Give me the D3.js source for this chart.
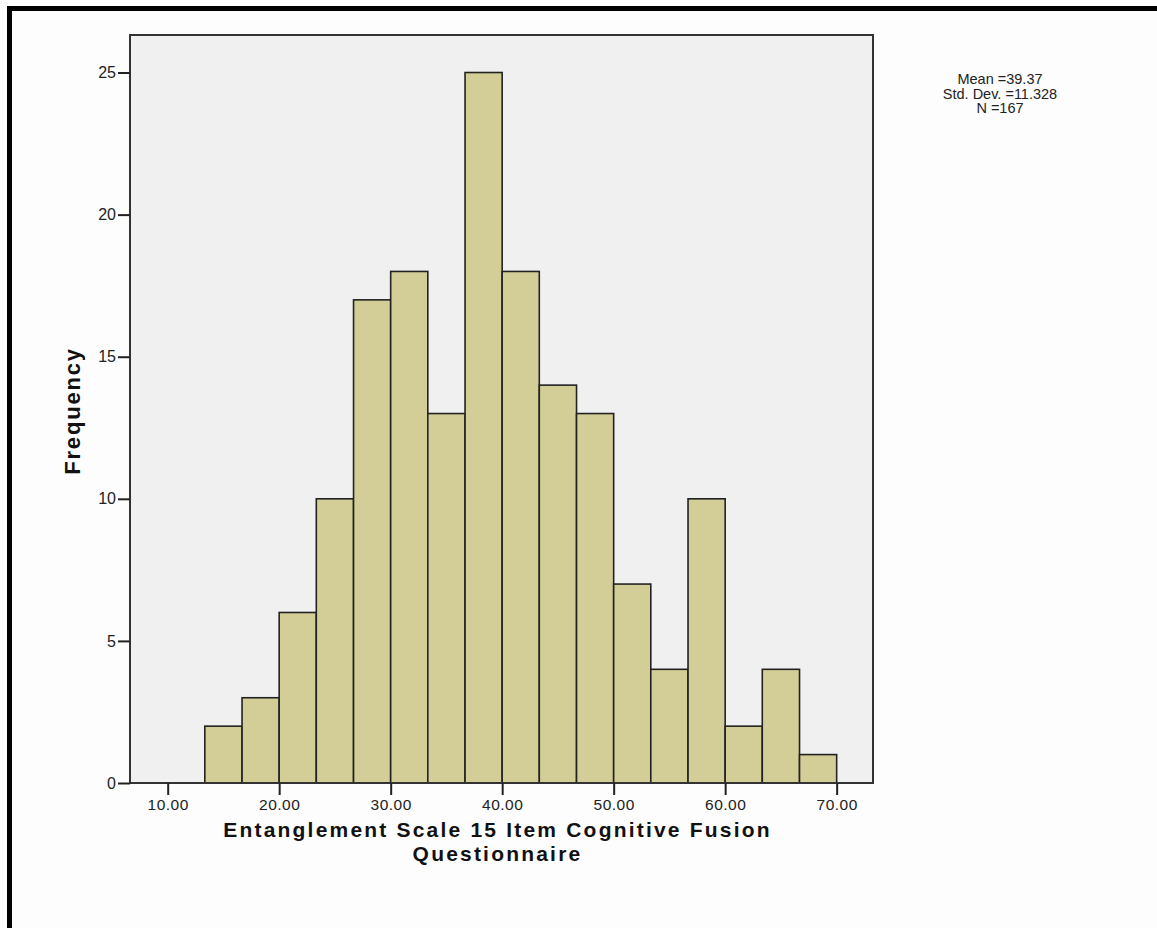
<!DOCTYPE html>
<html>
<head>
<meta charset="utf-8">
<script src="https://cdn.jsdelivr.net/npm/d3@7"></script>
<style>
  body { margin: 0; background: #fdfdfd; }
  svg { display: block; font-family: "Liberation Sans", Arial, sans-serif; }
</style>
</head>
<body>
<svg id="chart"></svg>
<script>
// histogram bins (lower edge, upper edge) and frequencies
const binStarts = [13.33, 16.67, 20.00, 23.33, 26.67, 30.00, 33.33, 36.67, 40.00, 43.33, 46.67, 50.00, 53.33, 56.67, 60.00, 63.33, 66.67];
const binEnds   = [16.67, 20.00, 23.33, 26.67, 30.00, 33.33, 36.67, 40.00, 43.33, 46.67, 50.00, 53.33, 56.67, 60.00, 63.33, 66.67, 70.00];
const counts    = [2, 3, 6, 10, 17, 18, 13, 25, 18, 14, 13, 7, 4, 10, 2, 4, 1];
const xTicks    = [10, 20, 30, 40, 50, 60, 70];
const yTicks    = [0, 5, 10, 15, 20, 25];
const statLines = ["Mean =39.37", "Std. Dev. =11.328", "N =167"];
const xTitle    = ["Entanglement Scale 15 Item Cognitive Fusion", "Questionnaire"];

const W = 1157, H = 928;
const svg = d3.select("#chart").attr("width", W).attr("height", H);

/* outer frame (only top + left visible) */
svg.append("rect").attr("x", 7).attr("y", 6).attr("width", W - 7).attr("height", 5).attr("fill", "#000");
svg.append("rect").attr("x", 7).attr("y", 6).attr("width", 5).attr("height", H - 6).attr("fill", "#000");

const plot = {left: 130, right: 873, top: 35, bottom: 783};

let x = d3.scaleLinear().domain([6.62, 73.26]).range([plot.left, plot.right]),
    y = d3.scaleLinear().domain([0, 26.32]).range([plot.bottom, plot.top]);

let g = svg.append("g");

g.append("rect") /* plot background */
  .attr("x", plot.left).attr("y", plot.top)
  .attr("width", plot.right - plot.left).attr("height", plot.bottom - plot.top)
  .attr("fill", "#f0f0f0");

g.selectAll(".bar")
  .data(counts)
  .enter()
  .append("rect")
  .attr("class", "bar")
  .attr("x", (d, i) => x(binStarts[i]))
  .attr("width", (d, i) => x(binEnds[i]) - x(binStarts[i]))
  .attr("y", (d) => y(d))
  .attr("height", (d) => y(0) - y(d))
  .attr("fill", "#d3ce97")
  .attr("stroke", "#222")
  .attr("stroke-width", 1.6);

g.append("rect") /* plot frame */
  .attr("x", plot.left).attr("y", plot.top)
  .attr("width", plot.right - plot.left).attr("height", plot.bottom - plot.top)
  .attr("fill", "none")
  .attr("stroke", "#333")
  .attr("stroke-width", 2);

let xAxis = d3.axisBottom(x).tickValues(xTicks).tickFormat(d3.format(".2f")).tickSize(12).tickSizeOuter(0).tickPadding(4),
    yAxis = d3.axisLeft(y).tickValues(yTicks).tickSize(12).tickSizeOuter(0).tickPadding(2);

let gx = g.append("g")
  .attr("transform", `translate(0, ${plot.bottom})`)
  .call(xAxis);
gx.select(".domain").remove();
gx.selectAll("line").attr("stroke", "#222").attr("stroke-width", 2);
gx.selectAll("text").attr("fill", "#222").attr("font-size", 15.5).attr("letter-spacing", "0.5px")
  .attr("font-family", "Liberation Sans, Arial, sans-serif");

let gy = g.append("g")
  .attr("transform", `translate(${plot.left}, 0)`)
  .call(yAxis);
gy.select(".domain").remove();
gy.selectAll("line").attr("stroke", "#222").attr("stroke-width", 2);
gy.selectAll("text").attr("fill", "#222").attr("font-size", 16)
  .attr("font-family", "Liberation Sans, Arial, sans-serif");

/* axis titles */
g.append("text")
  .attr("transform", `translate(80, ${(plot.top + plot.bottom) / 2 + 2}) rotate(-90)`)
  .attr("text-anchor", "middle")
  .attr("font-size", 22).attr("font-weight", "bold").attr("letter-spacing", "1.8px")
  .attr("fill", "#111")
  .text("Frequency");

g.selectAll(".xtitle")
  .data(xTitle)
  .enter()
  .append("text")
  .attr("class", "xtitle")
  .attr("x", (plot.left + plot.right) / 2 - 4)
  .attr("y", (d, i) => 837 + i * 24)
  .attr("text-anchor", "middle")
  .attr("font-size", 21).attr("font-weight", "bold").attr("letter-spacing", "2.2px")
  .attr("fill", "#111")
  .text((d) => d);

/* stats box */
g.selectAll(".stat")
  .data(statLines)
  .enter()
  .append("text")
  .attr("class", "stat")
  .attr("x", 1000)
  .attr("y", (d, i) => 84 + i * 14.5)
  .attr("text-anchor", "middle")
  .attr("font-size", 14.5)
  .attr("fill", "#222")
  .text((d) => d);
</script>
</body>
</html>
